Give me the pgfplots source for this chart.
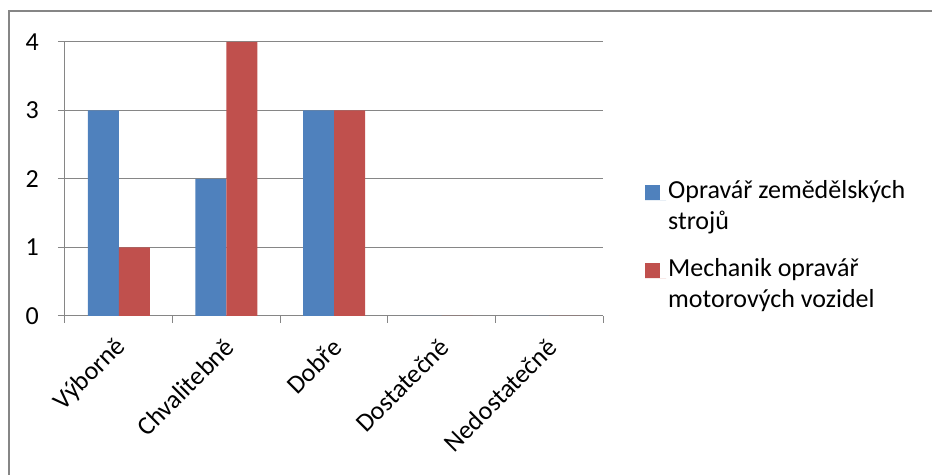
\documentclass[border=0pt]{standalone}
\usepackage{fontspec}
\setmainfont{Carlito}
\usepackage{pgfplots}
\usetikzlibrary{calc}
\pgfplotsset{compat=1.18}
\definecolor{sblue}{HTML}{4F81BD}
\definecolor{sred}{HTML}{C0504D}
\definecolor{gridgray}{HTML}{868686}
\begin{document}
\fontsize{26bp}{31bp}\selectfont
\begin{tikzpicture}[x=1bp,y=1bp]
\begin{axis}[
  scale only axis, width=538bp, height=274bp,
  xmin=-0.5, xmax=4.5, ymin=0, ymax=4,
  ybar=0pt, bar width=31bp,
  axis x line*=bottom, axis y line*=left,
  axis line style={gridgray, line width=1bp, -},
  xtick={0,1,2,3,4},
  xticklabels={Výborně,Chvalitebně,Dobře,Dostatečně,Nedostatečně},
  minor xtick={-0.5,0.5,1.5,2.5,3.5,4.5},
  every major x tick/.append style={draw=none},
  ytick={0,1,2,3,4},
  tick align=outside,
  major tick length=7bp, minor tick length=7bp,
  tick style={gridgray, line width=1bp},
  ymajorgrids, grid style={gridgray, line width=1bp},
  /pgf/number format/assume math mode=true,
  tick label style={font=\fontsize{26bp}{31bp}\selectfont, text=black},
  yticklabel style={inner sep=0pt, xshift=-19bp},
  xticklabel style={xshift=3bp, yshift=-20bp, rotate=45, anchor=east, inner sep=0pt},
  legend style={draw=none, at={(1.078,0.502)}, anchor=north west,
    font=\fontsize{26bp}{31bp}\selectfont, cells={align=left},
    row sep=21bp, inner sep=0pt},
  legend cell align=left,
  legend image code/.code={\fill[#1,draw=none] (0bp,7bp) rectangle (15bp,22bp);
    \path (0bp,7bp) -- (21bp,7bp);},
]
\addplot[fill=sblue, draw=none] coordinates {(0,3) (1,2) (2,3) (3,0) (4,0)};
\addplot[fill=sred, draw=none] coordinates {(0,1) (1,4) (2,3) (3,0) (4,0)};
\legend{Opravář zemědělských\\strojů, Mechanik opravář\\motorových vozidel}
\coordinate (O) at (rel axis cs:0,0);
\end{axis}
\draw[gridgray, line width=1.5bp] ($(O)+(-56,-170)$) -- ($(O)+(-56,305)$) -- ($(O)+(880,305)$);
\pgfresetboundingbox
\path ($(O)+(-65,-159)$) rectangle ($(O)+(867,316)$);
\end{tikzpicture}
\end{document}
